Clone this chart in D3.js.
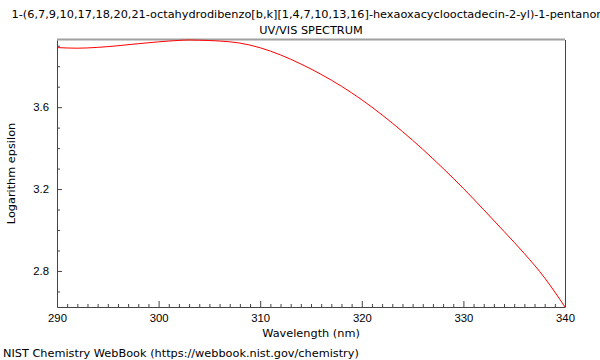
<!DOCTYPE html>
<html>
<head>
<meta charset="utf-8">
<script src="https://cdn.jsdelivr.net/npm/d3@7"></script>
<style>
  body { margin: 0; background: #fff; }
  svg { display: block; font-family: "DejaVu Sans", sans-serif; }
  text { fill: #000; }
</style>
</head>
<body>
<div id="chart"></div>
<script>
(function spectrum() {

  var titleLines = [
    "1-(6,7,9,10,17,18,20,21-octahydrodibenzo[b,k][1,4,7,10,13,16]-hexaoxacyclooctadecin-2-yl)-1-pentanone",
    "UV/VIS SPECTRUM"
  ];

  // wavelength (nm) and log epsilon
  var wavelength = [290, 292, 294, 296, 298, 300, 302, 303, 304, 306, 308, 310, 312, 314, 316,
    318, 320, 322, 324, 326, 328, 330, 332, 334, 336, 338, 339, 340];
  var logEps = [3.891, 3.888, 3.892, 3.900, 3.910, 3.919, 3.926, 3.928, 3.927, 3.923, 3.913,
    3.890, 3.855, 3.811, 3.760, 3.702, 3.636, 3.562, 3.481, 3.394, 3.301, 3.203, 3.099,
    2.993, 2.885, 2.766, 2.697, 2.624];

  var xTicks = [290, 300, 310, 320, 330, 340];
  var yTicks = [2.8, 3.2, 3.6];

  var fontSize = "11.3px";

  var margin = { top: 40, right: 35, bottom: 53, left: 57 },
    width = 600 - margin.left - margin.right,
    height = 360 - margin.top - margin.bottom;

  var data = wavelength.map(function(w, i) { return { w: w, e: logEps[i] }; });

  var x = d3.scaleLinear().domain([290, 340]).range([0, width]);
  var y = d3.scaleLinear().domain(d3.extent(logEps)).range([height, 0]);

  var root = d3.select("#chart").append("svg")
    .attr("width", 600)
    .attr("height", 360);

  root.selectAll(".title")
    .data(titleLines)
    .enter().append("text")
    .attr("class", "title")
    .attr("x", margin.left + width / 2)
    .attr("y", function(d, i) { return 18 + i * 16; })
    .attr("text-anchor", "middle")
    .style("font-size", fontSize)
    .text(function(d) { return d; });

  var svg = root.append("g")
    .attr("transform", "translate(" + margin.left + "," + margin.top + ")");

  // frame: grey top, dark right
  svg.append("line")
    .attr("x1", 0).attr("x2", width).attr("y1", -0.5).attr("y2", -0.5)
    .attr("stroke", "#a0a0a0").attr("stroke-width", 2);
  svg.append("line")
    .attr("x1", width + 0.5).attr("x2", width + 0.5).attr("y1", 0).attr("y2", height)
    .attr("stroke", "#444").attr("stroke-width", 1);

  var line = d3.line()
    .curve(d3.curveMonotoneX)
    .x(function(d) { return x(d.w); })
    .y(function(d) { return y(d.e); });

  svg.append("path")
    .datum(data)
    .attr("fill", "none")
    .attr("stroke", "#ff0000")
    .attr("stroke-width", 1)
    .attr("d", line);

  // minor ticks
  var xMinor = d3.range(291, 340).filter(function(v) { return v % 10 !== 0; });
  var yMinor = d3.range(27, 40).map(function(v) { return v / 10; })
    .filter(function(v) { return yTicks.indexOf(v) < 0; });

  svg.append("g")
    .attr("transform", "translate(0," + height + ")")
    .call(d3.axisBottom(x).tickValues(xMinor).tickSize(-3).tickFormat(""))
    .call(function(g) { g.select(".domain").remove(); g.selectAll("line").attr("stroke", "#444"); });

  svg.append("g")
    .call(d3.axisLeft(y).tickValues(yMinor).tickSize(-3).tickFormat(""))
    .call(function(g) { g.select(".domain").remove(); g.selectAll("line").attr("stroke", "#444"); });

  var xAxis = svg.append("g")
    .attr("transform", "translate(0," + height + ")")
    .call(d3.axisBottom(x).tickValues(xTicks).tickSize(-6).tickPadding(7).tickSizeOuter(0)
      .tickFormat(d3.format("d")));
  xAxis.selectAll("text").style("font-size", fontSize).attr("dy", "0.71em");

  var yAxis = svg.append("g")
    .call(d3.axisLeft(y).tickValues(yTicks).tickSize(5).tickPadding(3).tickSizeOuter(0)
      .tickFormat(d3.format(".1f")));
  yAxis.selectAll(".tick line").attr("x2", 5);
  yAxis.selectAll("text").style("font-size", fontSize);

  svg.selectAll(".domain").attr("stroke", "#444");
  svg.selectAll(".tick line").attr("stroke", "#444");

  root.append("text")
    .attr("x", margin.left + width / 2)
    .attr("y", 337)
    .attr("text-anchor", "middle")
    .style("font-size", fontSize)
    .text("Wavelength (nm)");

  root.append("text")
    .attr("transform", "translate(15," + (margin.top + height / 2) + ") rotate(-90)")
    .attr("text-anchor", "middle")
    .style("font-size", fontSize)
    .text("Logarithm epsilon");

  root.append("text")
    .attr("x", 3)
    .attr("y", 357)
    .style("font-size", fontSize)
    .text("NIST Chemistry WebBook (https://webbook.nist.gov/chemistry)");
})();
</script>
</body>
</html>
